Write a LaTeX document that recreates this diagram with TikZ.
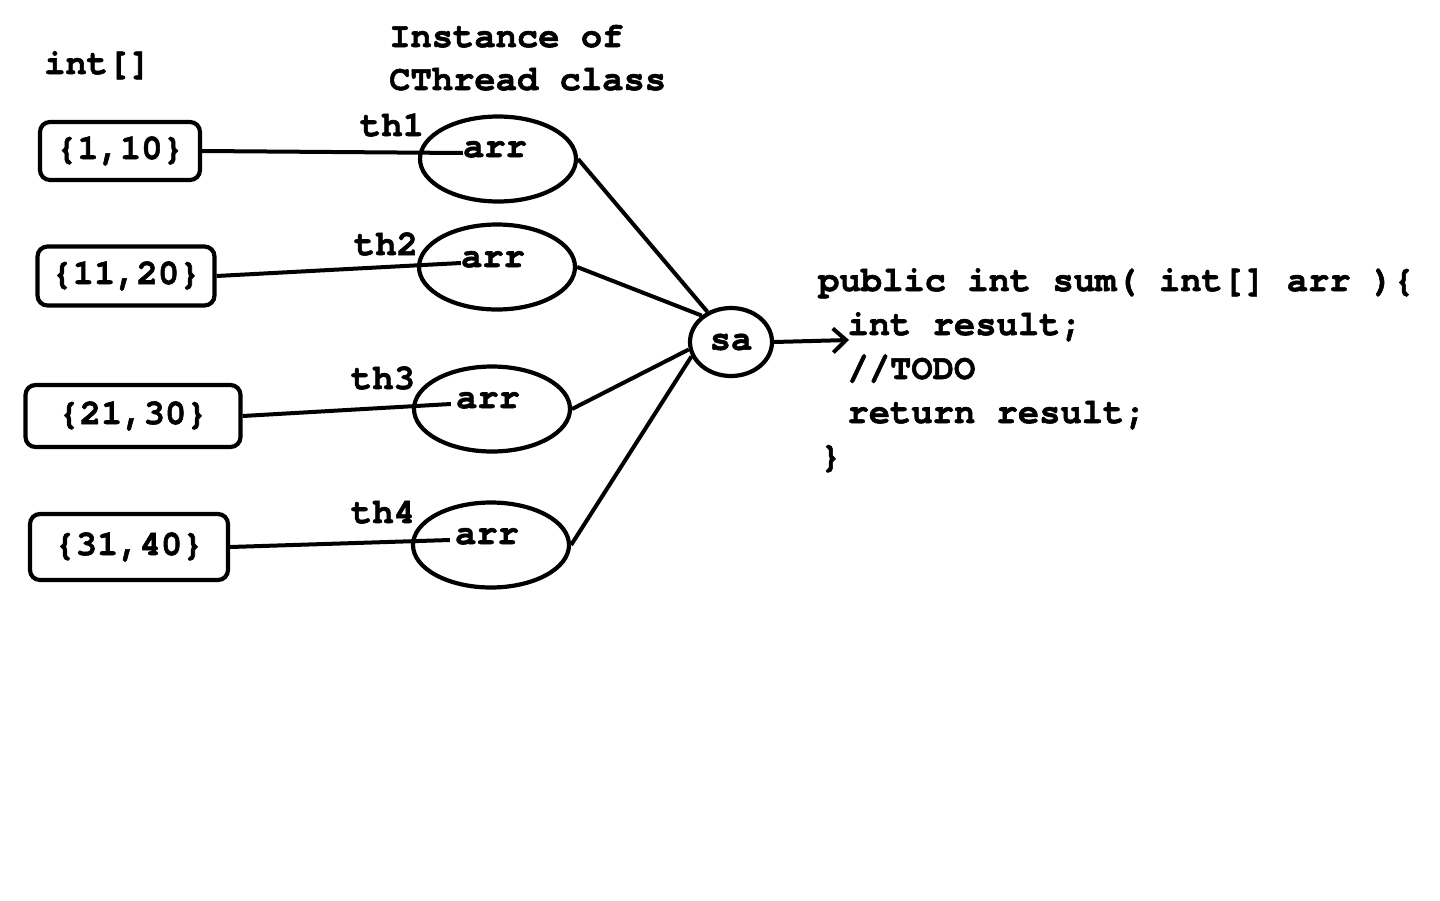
\documentclass[tikz,border=0pt]{standalone}
\usepackage{fontspec}
\setmainfont{TeX Gyre Cursor}[BoldFeatures={FakeBold=1.6}]
\usetikzlibrary{shapes.geometric,arrows.meta}
\begin{document}
\begin{tikzpicture}[x=1pt,y=-1pt,
  every node/.style={font=\fontsize{35.5}{43}\selectfont\bfseries, inner sep=0pt},
  lbl/.style={anchor=base},
  lblw/.style={anchor=base west},
  valbox/.style={draw, line width=4.2pt, rounded corners=10pt},
  thread/.style={draw, ellipse, line width=4.2pt, minimum width=156pt, minimum height=85pt},
  conn/.style={line width=4pt}
]
\useasboundingbox[fill=white] (0,0) rectangle (1440,900);

% headers
\node[lblw] (hint) at (44,74) {int[]};
\node[lblw] (hinst1) at (389,47) {Instance of};
\node[lblw] (hinst2) at (389,90) {CThread class};

% int[] boxes
\node[valbox, minimum width=160pt, minimum height=58pt] (b1) at (120,151) {\{1,10\}};
\node[valbox, minimum width=177pt, minimum height=59pt] (b2) at (126,276) {\{11,20\}};
\node[valbox, minimum width=215pt, minimum height=62pt] (b3) at (133,416) {\{21,30\}};
\node[valbox, minimum width=198pt, minimum height=66pt] (b4) at (129,547) {\{31,40\}};

% thread ellipses
\node[thread] (e1) at (498,159) {};
\node[thread] (e2) at (497,267) {};
\node[thread] (e3) at (492,409) {};
\node[thread] (e4) at (491,545) {};

\node[lbl] (a1) at (495,157) {arr};
\node[lbl] (a2) at (493,267) {arr};
\node[lbl] (a3) at (488,408) {arr};
\node[lbl] (a4) at (487,544) {arr};

\node[lbl] (t1) at (392,136) {th1};
\node[lbl] (t2) at (386,255) {th2};
\node[lbl] (t3) at (383,389) {th3};
\node[lbl] (t4) at (383,523) {th4};

% sa
\node[draw, ellipse, line width=4.2pt, minimum width=82pt, minimum height=68pt] (sa) at (731,342) {sa};

% box -> arr
\draw[conn] (b1.east) -- ([yshift=4pt]a1.base west);
\draw[conn] (b2.east) -- ([yshift=4pt]a2.base west);
\draw[conn] (b3.east) -- ([xshift=-5pt,yshift=4pt]a3.base west);
\draw[conn] (b4.east) -- ([xshift=-5pt,yshift=4pt]a4.base west);

% ellipse -> sa
\draw[conn] (e1.east) -- (sa.128);
\draw[conn] (e2.east) -- (sa.138);
\draw[conn] (e3.east) -- (sa.190);
\draw[conn] (e4.east) -- (sa.200);

% arrow to code
\coordinate (tip) at (849,340);
\draw[conn, -{Straight Barb[length=13pt,width=24pt,line width=4pt]}] (sa.east) -- (tip);

% code
\node[lblw] (c1) at (818,291) {public int sum( int[] arr )\{};
\node[lblw] (c2) at (826,335) {\hphantom{x}int result;};
\node[lblw] (c3) at (826,379) {\hphantom{x}//TODO};
\node[lblw] (c4) at (826,423) {\hphantom{x}return result;};
\node[lblw] (c5) at (820,467) {\}};
\end{tikzpicture}
\end{document}
